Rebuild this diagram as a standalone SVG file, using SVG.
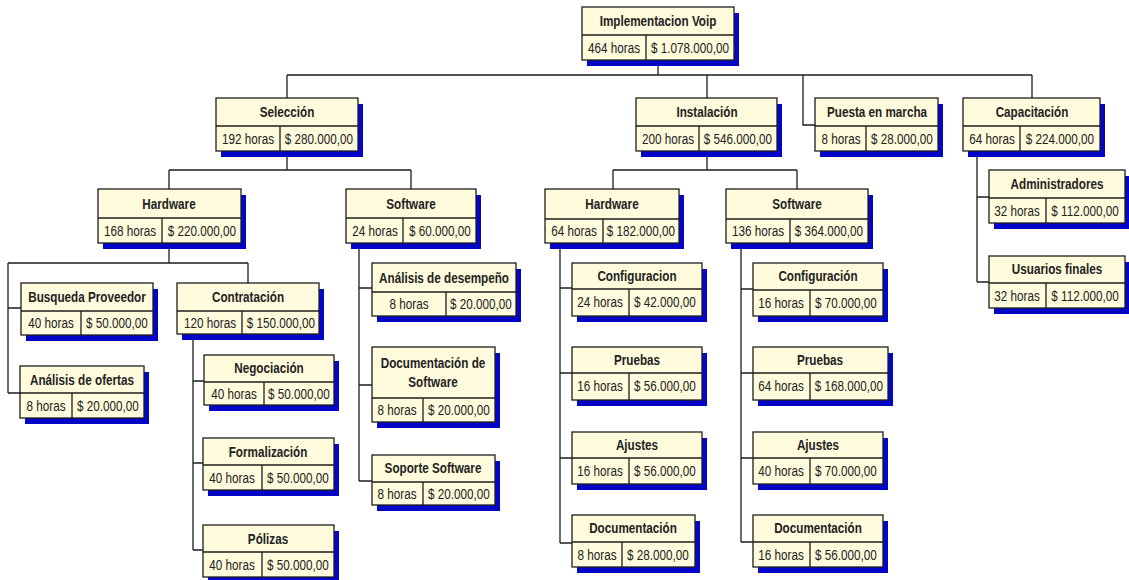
<svg xmlns="http://www.w3.org/2000/svg" width="1129" height="580" viewBox="0 0 1129 580">
  <style>
    .sh { fill: #0505c8; }
    .bx { fill: #fffbdc; stroke: #1e1e1e; stroke-width: 1.3; }
    .dv { stroke: #1e1e1e; stroke-width: 1.3; }
    .t { font-family: "Liberation Sans", Arial, sans-serif; font-weight: bold; font-size: 15px; fill: #222; text-anchor: middle; dominant-baseline: central; }
    .d { font-family: "Liberation Sans", Arial, sans-serif; font-size: 15px; fill: #222; text-anchor: middle; dominant-baseline: central; }
    .ln { fill: none; stroke: #1e1e1e; stroke-width: 1.3; }
  </style>
  <rect width="1129" height="580" fill="#ffffff"/>

  <!-- connectors -->
  <g id="connectors" class="ln">
    <path d="M658 60V75M287 75H1032M287 75V98M707 75V98M1032 75V98"/>
    <path d="M803 75V125H815"/>
    <path d="M287 151V170M169 170H411M169 170V189M411 170V189"/>
    <path d="M169 243V263M8 263H248M248 263V283M8 263V393M8 308H21M8 393H20"/>
    <path d="M193 334V550M193 381H204M193 463H203M193 550H203"/>
    <path d="M359 243V481M359 288H372M359 385H372M359 481H372"/>
    <path d="M707 151V170M613 170H797M613 170V189M797 170V189"/>
    <path d="M560 243V543M560 288H572M560 373H572M560 458H572M560 543H572"/>
    <path d="M741 243V542M741 289H753M741 373H753M741 458H753M741 542H753"/>
    <path d="M977 151V282M977 197H989M977 282H989"/>
  </g>

  <!-- Implementacion Voip -->
  <g id="n-root">
    <rect class="sh" x="587" y="13" width="152" height="53"/>
    <rect class="bx" x="582" y="7" width="152" height="53"/>
    <path class="dv" d="M582 35H734M646 35V60"/>
    <text class="t" transform="translate(658 21) scale(.78 1)">Implementacion Voip</text>
    <text class="d" transform="translate(614 48) scale(.78 1)">464 horas</text>
    <text class="d" transform="translate(690 48) scale(.78 1)">$ 1.078.000,00</text>
  </g>

  <!-- Selección -->
  <g id="n-seleccion">
    <rect class="sh" x="221" y="104" width="142" height="53"/>
    <rect class="bx" x="216" y="98" width="142" height="53"/>
    <path class="dv" d="M216 126H358M280 126V151"/>
    <text class="t" transform="translate(287 112) scale(.78 1)">Selección</text>
    <text class="d" transform="translate(248 139) scale(.78 1)">192 horas</text>
    <text class="d" transform="translate(319 139) scale(.78 1)">$ 280.000,00</text>
  </g>

  <!-- Instalación -->
  <g id="n-instalacion">
    <rect class="sh" x="641" y="104" width="141" height="53"/>
    <rect class="bx" x="636" y="98" width="141" height="53"/>
    <path class="dv" d="M636 126H777M699 126V151"/>
    <text class="t" transform="translate(707 112) scale(.78 1)">Instalación</text>
    <text class="d" transform="translate(668 139) scale(.78 1)">200 horas</text>
    <text class="d" transform="translate(738 139) scale(.78 1)">$ 546.000,00</text>
  </g>

  <!-- Puesta en marcha -->
  <g id="n-puesta">
    <rect class="sh" x="820" y="104" width="123" height="53"/>
    <rect class="bx" x="815" y="98" width="123" height="53"/>
    <path class="dv" d="M815 126H938M866 126V151"/>
    <text class="t" transform="translate(877 112) scale(.78 1)">Puesta en marcha</text>
    <text class="d" transform="translate(841 139) scale(.78 1)">8 horas</text>
    <text class="d" transform="translate(902 139) scale(.78 1)">$ 28.000,00</text>
  </g>

  <!-- Capacitación -->
  <g id="n-capacitacion">
    <rect class="sh" x="968" y="104" width="137" height="53"/>
    <rect class="bx" x="963" y="98" width="137" height="53"/>
    <path class="dv" d="M963 126H1100M1020 126V151"/>
    <text class="t" transform="translate(1032 112) scale(.78 1)">Capacitación</text>
    <text class="d" transform="translate(992 139) scale(.78 1)">64 horas</text>
    <text class="d" transform="translate(1060 139) scale(.78 1)">$ 224.000,00</text>
  </g>

  <!-- Selección / Hardware -->
  <g id="n-sel-hardware">
    <rect class="sh" x="103" y="195" width="143" height="54"/>
    <rect class="bx" x="98" y="189" width="143" height="54"/>
    <path class="dv" d="M98 218H241M162 218V243"/>
    <text class="t" transform="translate(169 204) scale(.78 1)">Hardware</text>
    <text class="d" transform="translate(130 231) scale(.78 1)">168 horas</text>
    <text class="d" transform="translate(202 231) scale(.78 1)">$ 220.000,00</text>
  </g>

  <!-- Selección / Software -->
  <g id="n-sel-software">
    <rect class="sh" x="351" y="195" width="130" height="54"/>
    <rect class="bx" x="346" y="189" width="130" height="54"/>
    <path class="dv" d="M346 218H476M403 218V243"/>
    <text class="t" transform="translate(411 204) scale(.78 1)">Software</text>
    <text class="d" transform="translate(375 231) scale(.78 1)">24 horas</text>
    <text class="d" transform="translate(440 231) scale(.78 1)">$ 60.000,00</text>
  </g>

  <!-- Busqueda Proveedor -->
  <g id="n-busqueda">
    <rect class="sh" x="26" y="289" width="132" height="52"/>
    <rect class="bx" x="21" y="283" width="132" height="52"/>
    <path class="dv" d="M21 311H153M81 311V335"/>
    <text class="t" transform="translate(87 297) scale(.78 1)">Busqueda Proveedor</text>
    <text class="d" transform="translate(51 323) scale(.78 1)">40 horas</text>
    <text class="d" transform="translate(117 323) scale(.78 1)">$ 50.000,00</text>
  </g>

  <!-- Análisis de ofertas -->
  <g id="n-analisis-ofertas">
    <rect class="sh" x="25" y="372" width="124" height="52"/>
    <rect class="bx" x="20" y="366" width="124" height="52"/>
    <path class="dv" d="M20 393H144M72 393V418"/>
    <text class="t" transform="translate(82 380) scale(.78 1)">Análisis de ofertas</text>
    <text class="d" transform="translate(46 406) scale(.78 1)">8 horas</text>
    <text class="d" transform="translate(108 406) scale(.78 1)">$ 20.000,00</text>
  </g>

  <!-- Contratación -->
  <g id="n-contratacion">
    <rect class="sh" x="182" y="289" width="142" height="51"/>
    <rect class="bx" x="177" y="283" width="142" height="51"/>
    <path class="dv" d="M177 311H319M242 311V334"/>
    <text class="t" transform="translate(248 297) scale(.78 1)">Contratación</text>
    <text class="d" transform="translate(210 323) scale(.78 1)">120 horas</text>
    <text class="d" transform="translate(281 323) scale(.78 1)">$ 150.000,00</text>
  </g>

  <!-- Negociación -->
  <g id="n-negociacion">
    <rect class="sh" x="209" y="361" width="130" height="50"/>
    <rect class="bx" x="204" y="355" width="130" height="50"/>
    <path class="dv" d="M204 382H334M264 382V405"/>
    <text class="t" transform="translate(269 368) scale(.78 1)">Negociación</text>
    <text class="d" transform="translate(234 394) scale(.78 1)">40 horas</text>
    <text class="d" transform="translate(299 394) scale(.78 1)">$ 50.000,00</text>
  </g>

  <!-- Formalización -->
  <g id="n-formalizacion">
    <rect class="sh" x="208" y="444" width="131" height="52"/>
    <rect class="bx" x="203" y="438" width="131" height="52"/>
    <path class="dv" d="M203 465H334M262 465V490"/>
    <text class="t" transform="translate(268 452) scale(.78 1)">Formalización</text>
    <text class="d" transform="translate(232 478) scale(.78 1)">40 horas</text>
    <text class="d" transform="translate(298 478) scale(.78 1)">$ 50.000,00</text>
  </g>

  <!-- Pólizas -->
  <g id="n-polizas">
    <rect class="sh" x="208" y="531" width="131" height="52"/>
    <rect class="bx" x="203" y="525" width="131" height="52"/>
    <path class="dv" d="M203 552H334M262 552V577"/>
    <text class="t" transform="translate(268 539) scale(.78 1)">Pólizas</text>
    <text class="d" transform="translate(232 565) scale(.78 1)">40 horas</text>
    <text class="d" transform="translate(298 565) scale(.78 1)">$ 50.000,00</text>
  </g>

  <!-- Análisis de desempeño -->
  <g id="n-analisis-desempeno">
    <rect class="sh" x="377" y="269" width="144" height="53"/>
    <rect class="bx" x="372" y="263" width="144" height="53"/>
    <path class="dv" d="M372 292H516M446 292V316"/>
    <text class="t" transform="translate(444 278) scale(.78 1)">Análisis de desempeño</text>
    <text class="d" transform="translate(409 304) scale(.78 1)">8 horas</text>
    <text class="d" transform="translate(481 304) scale(.78 1)">$ 20.000,00</text>
  </g>

  <!-- Documentación de Software -->
  <g id="n-doc-software">
    <rect class="sh" x="377" y="353" width="123" height="75"/>
    <rect class="bx" x="372" y="347" width="123" height="75"/>
    <path class="dv" d="M372 398H495M423 398V422"/>
    <text class="t" transform="translate(433 363) scale(.78 1)">Documentación de</text>
    <text class="t" transform="translate(433 382) scale(.78 1)">Software</text>
    <text class="d" transform="translate(397 410) scale(.78 1)">8 horas</text>
    <text class="d" transform="translate(459 410) scale(.78 1)">$ 20.000,00</text>
  </g>

  <!-- Soporte Software -->
  <g id="n-soporte">
    <rect class="sh" x="377" y="461" width="123" height="50"/>
    <rect class="bx" x="372" y="455" width="123" height="50"/>
    <path class="dv" d="M372 482H495M423 482V505"/>
    <text class="t" transform="translate(433 468) scale(.78 1)">Soporte Software</text>
    <text class="d" transform="translate(397 494) scale(.78 1)">8 horas</text>
    <text class="d" transform="translate(459 494) scale(.78 1)">$ 20.000,00</text>
  </g>

  <!-- Instalación / Hardware -->
  <g id="n-inst-hardware">
    <rect class="sh" x="550" y="195" width="134" height="54"/>
    <rect class="bx" x="545" y="189" width="134" height="54"/>
    <path class="dv" d="M545 219H679M603 219V243"/>
    <text class="t" transform="translate(612 204) scale(.78 1)">Hardware</text>
    <text class="d" transform="translate(574 231) scale(.78 1)">64 horas</text>
    <text class="d" transform="translate(641 231) scale(.78 1)">$ 182.000,00</text>
  </g>

  <!-- Instalación / Software -->
  <g id="n-inst-software">
    <rect class="sh" x="731" y="195" width="142" height="54"/>
    <rect class="bx" x="726" y="189" width="142" height="54"/>
    <path class="dv" d="M726 219H868M790 219V243"/>
    <text class="t" transform="translate(797 204) scale(.78 1)">Software</text>
    <text class="d" transform="translate(758 231) scale(.78 1)">136 horas</text>
    <text class="d" transform="translate(829 231) scale(.78 1)">$ 364.000,00</text>
  </g>

  <!-- Hardware / Configuracion -->
  <g id="n-hw-configuracion">
    <rect class="sh" x="577" y="269" width="130" height="53"/>
    <rect class="bx" x="572" y="263" width="130" height="53"/>
    <path class="dv" d="M572 289H702M629 289V316"/>
    <text class="t" transform="translate(637 276) scale(.78 1)">Configuracion</text>
    <text class="d" transform="translate(600 302) scale(.78 1)">24 horas</text>
    <text class="d" transform="translate(665 302) scale(.78 1)">$ 42.000,00</text>
  </g>

  <!-- Hardware / Pruebas -->
  <g id="n-hw-pruebas">
    <rect class="sh" x="577" y="353" width="130" height="53"/>
    <rect class="bx" x="572" y="347" width="130" height="53"/>
    <path class="dv" d="M572 373H702M629 373V400"/>
    <text class="t" transform="translate(637 360) scale(.78 1)">Pruebas</text>
    <text class="d" transform="translate(600 386) scale(.78 1)">16 horas</text>
    <text class="d" transform="translate(665 386) scale(.78 1)">$ 56.000,00</text>
  </g>

  <!-- Hardware / Ajustes -->
  <g id="n-hw-ajustes">
    <rect class="sh" x="577" y="438" width="130" height="52"/>
    <rect class="bx" x="572" y="432" width="130" height="52"/>
    <path class="dv" d="M572 458H702M629 458V484"/>
    <text class="t" transform="translate(637 445) scale(.78 1)">Ajustes</text>
    <text class="d" transform="translate(600 471) scale(.78 1)">16 horas</text>
    <text class="d" transform="translate(665 471) scale(.78 1)">$ 56.000,00</text>
  </g>

  <!-- Hardware / Documentación -->
  <g id="n-hw-documentacion">
    <rect class="sh" x="577" y="521" width="123" height="52"/>
    <rect class="bx" x="572" y="515" width="123" height="52"/>
    <path class="dv" d="M572 542H695M622 542V567"/>
    <text class="t" transform="translate(633 528) scale(.78 1)">Documentación</text>
    <text class="d" transform="translate(597 555) scale(.78 1)">8 horas</text>
    <text class="d" transform="translate(658 555) scale(.78 1)">$ 28.000,00</text>
  </g>

  <!-- Software / Configuración -->
  <g id="n-sw-configuracion">
    <rect class="sh" x="758" y="269" width="130" height="53"/>
    <rect class="bx" x="753" y="263" width="130" height="53"/>
    <path class="dv" d="M753 290H883M810 290V316"/>
    <text class="t" transform="translate(818 276) scale(.78 1)">Configuración</text>
    <text class="d" transform="translate(781 303) scale(.78 1)">16 horas</text>
    <text class="d" transform="translate(846 303) scale(.78 1)">$ 70.000,00</text>
  </g>

  <!-- Software / Pruebas -->
  <g id="n-sw-pruebas">
    <rect class="sh" x="758" y="353" width="135" height="53"/>
    <rect class="bx" x="753" y="347" width="135" height="53"/>
    <path class="dv" d="M753 373H888M810 373V400"/>
    <text class="t" transform="translate(820 360) scale(.78 1)">Pruebas</text>
    <text class="d" transform="translate(781 386) scale(.78 1)">64 horas</text>
    <text class="d" transform="translate(849 386) scale(.78 1)">$ 168.000,00</text>
  </g>

  <!-- Software / Ajustes -->
  <g id="n-sw-ajustes">
    <rect class="sh" x="758" y="438" width="130" height="52"/>
    <rect class="bx" x="753" y="432" width="130" height="52"/>
    <path class="dv" d="M753 458H883M810 458V484"/>
    <text class="t" transform="translate(818 445) scale(.78 1)">Ajustes</text>
    <text class="d" transform="translate(781 471) scale(.78 1)">40 horas</text>
    <text class="d" transform="translate(846 471) scale(.78 1)">$ 70.000,00</text>
  </g>

  <!-- Software / Documentación -->
  <g id="n-sw-documentacion">
    <rect class="sh" x="758" y="521" width="130" height="52"/>
    <rect class="bx" x="753" y="515" width="130" height="52"/>
    <path class="dv" d="M753 542H883M810 542V567"/>
    <text class="t" transform="translate(818 528) scale(.78 1)">Documentación</text>
    <text class="d" transform="translate(781 555) scale(.78 1)">16 horas</text>
    <text class="d" transform="translate(846 555) scale(.78 1)">$ 56.000,00</text>
  </g>

  <!-- Administradores -->
  <g id="n-administradores">
    <rect class="sh" x="994" y="176" width="136" height="53"/>
    <rect class="bx" x="989" y="170" width="136" height="53"/>
    <path class="dv" d="M989 198H1125M1046 198V223"/>
    <text class="t" transform="translate(1057 184) scale(.78 1)">Administradores</text>
    <text class="d" transform="translate(1017 211) scale(.78 1)">32 horas</text>
    <text class="d" transform="translate(1085 211) scale(.78 1)">$ 112.000,00</text>
  </g>

  <!-- Usuarios finales -->
  <g id="n-usuarios">
    <rect class="sh" x="994" y="262" width="136" height="52"/>
    <rect class="bx" x="989" y="256" width="136" height="52"/>
    <path class="dv" d="M989 283H1125M1046 283V308"/>
    <text class="t" transform="translate(1057 269) scale(.78 1)">Usuarios finales</text>
    <text class="d" transform="translate(1017 296) scale(.78 1)">32 horas</text>
    <text class="d" transform="translate(1085 296) scale(.78 1)">$ 112.000,00</text>
  </g>
</svg>
